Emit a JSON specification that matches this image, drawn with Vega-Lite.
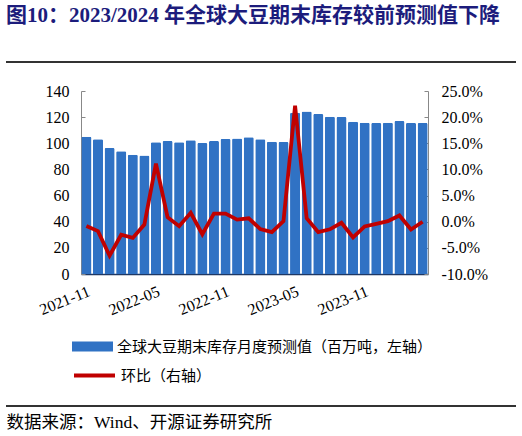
{
  "$schema": "https://vega.github.io/schema/vega-lite/v6.json",
  "width": 347,
  "height": 183,
  "autosize": {"type": "none"},
  "padding": {"left": 81, "top": 91, "right": 94, "bottom": 162},
  "background": "white",
  "config": {
    "view": {"stroke": null},
    "axis": {"labelFont": "Liberation Serif", "labelFontSize": 16, "labelColor": "#000", "grid": false}
  },
  "title": {
    "text": "图10：2023/2024 年全球大豆期末库存较前预测值下降",
    "anchor": "start",
    "frame": "group",
    "dx": -75,
    "offset": 36,
    "fontSize": 21,
    "font": "Liberation Serif, Noto Sans CJK SC",
    "fontWeight": "bold",
    "color": "#1C1C7C"
  },
  "data": {
    "values": [
      {"month": "2021-11", "stock": 105.0, "mom": -0.008},
      {"month": "2021-12", "stock": 103.0, "mom": -0.018},
      {"month": "2022-01", "stock": 96.3, "mom": -0.065},
      {"month": "2022-02", "stock": 94.0, "mom": -0.025},
      {"month": "2022-03", "stock": 91.2, "mom": -0.031},
      {"month": "2022-04", "stock": 90.7, "mom": -0.0055},
      {"month": "2022-05", "stock": 100.7, "mom": 0.111},
      {"month": "2022-06", "stock": 101.7, "mom": 0.0086},
      {"month": "2022-07", "stock": 100.7, "mom": -0.0087},
      {"month": "2022-08", "stock": 102.4, "mom": 0.017},
      {"month": "2022-09", "stock": 100.2, "mom": -0.024},
      {"month": "2022-10", "stock": 101.7, "mom": 0.0156},
      {"month": "2022-11", "stock": 103.2, "mom": 0.0156},
      {"month": "2022-12", "stock": 103.7, "mom": 0.004},
      {"month": "2023-01", "stock": 104.7, "mom": 0.0066},
      {"month": "2023-02", "stock": 103.0, "mom": -0.014},
      {"month": "2023-03", "stock": 101.2, "mom": -0.02},
      {"month": "2023-04", "stock": 100.9, "mom": 0.001},
      {"month": "2023-05", "stock": 123.4, "mom": 0.222},
      {"month": "2023-06", "stock": 124.4, "mom": 0.0066},
      {"month": "2023-07", "stock": 122.4, "mom": -0.02},
      {"month": "2023-08", "stock": 120.3, "mom": -0.0145},
      {"month": "2023-09", "stock": 120.1, "mom": -0.002},
      {"month": "2023-10", "stock": 116.5, "mom": -0.03},
      {"month": "2023-11", "stock": 115.7, "mom": -0.009},
      {"month": "2023-12", "stock": 115.5, "mom": -0.004},
      {"month": "2024-01", "stock": 115.7, "mom": 0.001},
      {"month": "2024-02", "stock": 117.0, "mom": 0.012},
      {"month": "2024-03", "stock": 115.5, "mom": -0.015},
      {"month": "2024-04", "stock": 115.5, "mom": 0.0}
    ]
  },
  "layer": [
    {
      "mark": {"type": "bar", "cornerRadiusTopLeft": 1.5, "cornerRadiusTopRight": 1.5},
      "encoding": {
        "x": {
          "field": "month",
          "type": "ordinal",
          "scale": {"paddingInner": 0.13, "paddingOuter": 0.03},
          "axis": {
            "values": ["2021-11", "2022-05", "2022-11", "2023-05", "2023-11"],
            "labelAngle": -22,
            "labelAlign": "right",
            "labelBaseline": "top",
            "labelPadding": 9,
            "ticks": false,
            "domainColor": "#1F3864",
            "domainWidth": 1.5,
            "title": "数据来源：Wind、开源证券研究所",
            "titleX": -75,
            "titleY": 148,
            "titleAlign": "left",
            "titleAnchor": null,
            "titleBaseline": "middle",
            "titleFont": "Liberation Serif, Noto Sans CJK SC",
            "titleFontSize": 17.5,
            "titleFontWeight": "normal",
            "titleColor": "#000"
          }
        },
        "y": {
          "field": "stock",
          "type": "quantitative",
          "scale": {"domain": [0, 140], "nice": false},
          "axis": {
            "orient": "left",
            "values": [0, 20, 40, 60, 80, 100, 120, 140],
            "title": null,
            "domainColor": "#888",
            "tickColor": "#888",
            "tickSize": -4,
            "labelPadding": 16
          }
        },
        "fill": {
          "datum": "全球大豆期末库存月度预测值（百万吨，左轴）",
          "scale": {"range": ["#3072C4"]},
          "legend": {
            "orient": "none",
            "legendX": -9,
            "legendY": 235,
            "title": null,
            "padding": 0,
            "symbolType": "M-1,-0.24H1V0.24H-1Z",
            "symbolSize": 1681,
            "symbolStrokeWidth": 0,
            "symbolOpacity": 1,
            "labelFont": "Noto Sans CJK SC",
            "labelFontSize": 15,
            "labelColor": "#000",
            "labelOffset": 4,
            "labelLimit": 0
          }
        }
      }
    },
    {
      "mark": {"type": "line", "strokeWidth": 3.8},
      "encoding": {
        "x": {"field": "month", "type": "ordinal"},
        "y": {
          "field": "mom",
          "type": "quantitative",
          "scale": {"domain": [-0.1, 0.25], "nice": false},
          "axis": {
            "orient": "right",
            "values": [-0.1, -0.05, 0, 0.05, 0.1, 0.15, 0.2, 0.25],
            "labelExpr": "replace(format(datum.value, '.1%'), '−', '-')",
            "title": null,
            "domainColor": "#888",
            "tickColor": "#888",
            "tickSize": -4,
            "labelPadding": 17
          }
        },
        "stroke": {
          "datum": "环比（右轴）",
          "scale": {"range": ["#C00000"]},
          "legend": {
            "orient": "none",
            "legendX": -9,
            "legendY": 262,
            "title": null,
            "padding": 0,
            "symbolType": "stroke",
            "symbolSize": 1681,
            "symbolStrokeWidth": 4,
            "labelFont": "Noto Sans CJK SC",
            "labelFontSize": 15,
            "labelColor": "#000",
            "labelOffset": 4,
            "labelLimit": 0
          }
        }
      }
    },
    {
      "mark": {"type": "rule", "color": "#333", "strokeWidth": 1},
      "encoding": {"x": {"value": -75}, "x2": {"value": 435}, "y": {"value": -29}}
    },
    {
      "mark": {"type": "rule", "color": "#333", "strokeWidth": 1},
      "encoding": {"x": {"value": -75}, "x2": {"value": 435}, "y": {"value": 315}}
    }
  ],
  "resolve": {"scale": {"y": "independent"}}
}
